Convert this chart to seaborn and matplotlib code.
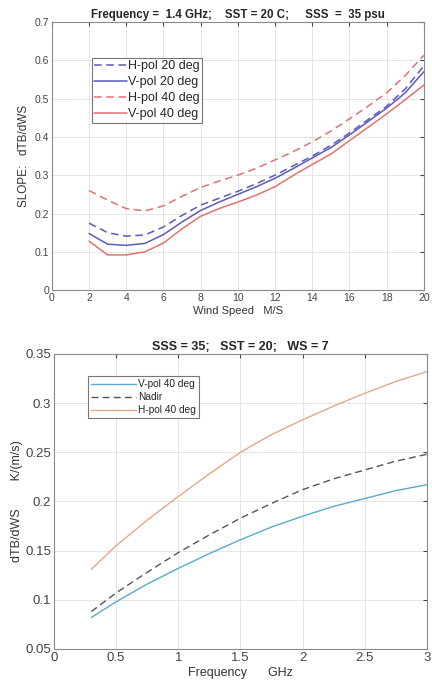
import numpy as np
import pandas as pd

import matplotlib
matplotlib.use('Agg')
import matplotlib.pyplot as plt
import seaborn as sns

# top panel: slope vs wind speed
wind = [2, 3, 4, 5, 6, 7, 8, 9, 10, 11, 12, 13, 14, 15, 16, 17, 18, 19, 20]
h20 = [0.175, 0.150, 0.141, 0.144, 0.165, 0.195, 0.222, 0.240, 0.258, 0.278,
       0.300, 0.325, 0.350, 0.378, 0.410, 0.445, 0.480, 0.525, 0.585]
v20 = [0.148, 0.120, 0.117, 0.122, 0.145, 0.178, 0.208, 0.230, 0.250, 0.270,
       0.292, 0.318, 0.345, 0.372, 0.405, 0.440, 0.475, 0.515, 0.570]
h40 = [0.260, 0.235, 0.213, 0.207, 0.220, 0.245, 0.268, 0.285, 0.300, 0.318,
       0.340, 0.362, 0.387, 0.415, 0.447, 0.480, 0.515, 0.560, 0.613]
v40 = [0.128, 0.092, 0.092, 0.100, 0.123, 0.160, 0.193, 0.213, 0.230, 0.248,
       0.270, 0.300, 0.328, 0.355, 0.390, 0.425, 0.460, 0.497, 0.535]

# bottom panel: slope vs frequency
freq = [0.3, 0.5, 0.75, 1.0, 1.25, 1.5, 1.75, 2.0, 2.25, 2.5, 2.75, 3.0]
f_v40 = [0.082, 0.098, 0.116, 0.132, 0.147, 0.161, 0.174, 0.185, 0.195, 0.203, 0.211, 0.217]
f_nadir = [0.088, 0.107, 0.128, 0.148, 0.166, 0.183, 0.198, 0.212, 0.223, 0.232, 0.241, 0.248]
f_h40 = [0.131, 0.155, 0.181, 0.205, 0.228, 0.250, 0.268, 0.283, 0.297, 0.310, 0.322, 0.332]

sns.set_style('whitegrid')
plt.rcParams['font.family'] = ['Liberation Sans', 'DejaVu Sans']

fig = plt.figure(figsize=(4.32, 6.86), dpi=100)
ax1 = fig.add_axes([0.120, 0.577, 0.861, 0.391])
ax2 = fig.add_axes([0.125, 0.054, 0.863, 0.430])

blue = '#5b5bb8'
red = '#e07272'

top = pd.DataFrame({'ws': wind * 4,
                    'slope': h20 + v20 + h40 + v40,
                    'curve': ['H-pol 20 deg'] * 19 + ['V-pol 20 deg'] * 19 +
                             ['H-pol 40 deg'] * 19 + ['V-pol 40 deg'] * 19})
sns.lineplot(data=top, x='ws', y='slope', hue='curve', style='curve',
             palette=[blue, blue, red, red],
             dashes=[(5, 3), '', (5, 3), ''], lw=1.1, ax=ax1)

bot = pd.DataFrame({'f': freq * 3,
                    'slope': f_v40 + f_nadir + f_h40,
                    'curve': ['V-pol 40 deg'] * 12 + ['Nadir'] * 12 + ['H-pol 40 deg'] * 12})
sns.lineplot(data=bot, x='f', y='slope', hue='curve', style='curve',
             palette=['#5aaac8', '#555555', '#e2a88e'],
             dashes=['', (5, 3), ''], lw=1.0, ax=ax2)

for ax in (ax1, ax2):
    ax.grid(color='#e6e6e6', lw=0.7)
    for s in ax.spines.values():
        s.set_color('#8a8a8a')
        s.set_linewidth(0.8)
    ax.tick_params(direction='in', length=3, color='#444444',
                   top=True, right=True, labelcolor='#444444', pad=2)

ax1.set_xlim(0, 20)
ax1.set_ylim(0, 0.7)
ax1.set_xticks(range(0, 21, 2))
ax1.set_yticks(np.arange(0, 0.71, 0.1))
ax1.set_yticklabels(['0', '0.1', '0.2', '0.3', '0.4', '0.5', '0.6', '0.7'])
ax1.tick_params(labelsize=7.5)
ax1.set_xlabel('Wind Speed   M/S', fontsize=8, color='#333333', labelpad=2)
ax1.set_ylabel('SLOPE:   dTB/dWS', fontsize=8.5, color='#333333', labelpad=3)
ax1.set_title('Frequency =  1.4 GHz;    SST = 20 C;     SSS  =  35 psu',
              fontsize=8.3, fontweight='bold', pad=3)
leg1 = ax1.legend(loc='upper left', bbox_to_anchor=(0.107, 0.866), fontsize=9,
                  frameon=True, fancybox=False, handlelength=2.6,
                  handletextpad=0.1, borderpad=0.2, labelspacing=0.32,
                  borderaxespad=0)
leg1.get_frame().set_edgecolor('#555555')
leg1.get_frame().set_linewidth(0.8)

ax2.set_xlim(0, 3)
ax2.set_ylim(0.05, 0.35)
ax2.set_xticks([0, 0.5, 1, 1.5, 2, 2.5, 3])
ax2.set_xticklabels(['0', '0.5', '1', '1.5', '2', '2.5', '3'])
ax2.set_yticks([0.05, 0.1, 0.15, 0.2, 0.25, 0.3, 0.35])
ax2.set_yticklabels(['0.05', '0.1', '0.15', '0.2', '0.25', '0.3', '0.35'])
ax2.tick_params(labelsize=9.5)
ax2.set_xlabel('Frequency      GHz', fontsize=9, color='#333333', labelpad=2)
ax2.set_ylabel('dTB/dWS        K/(m/s)', fontsize=9, color='#333333', labelpad=2)
ax2.set_title('SSS = 35;   SST = 20;   WS = 7', fontsize=9, fontweight='bold', pad=3)
leg2 = ax2.legend(loc='upper left', bbox_to_anchor=(0.09, 0.925), fontsize=7.3,
                  frameon=True, fancybox=False, handlelength=4.5,
                  handletextpad=0.2, borderpad=0.3, labelspacing=0.3,
                  borderaxespad=0)
leg2.get_frame().set_edgecolor('#555555')
leg2.get_frame().set_linewidth(0.8)

plt.savefig('out.png', dpi=100)
plt.close()
